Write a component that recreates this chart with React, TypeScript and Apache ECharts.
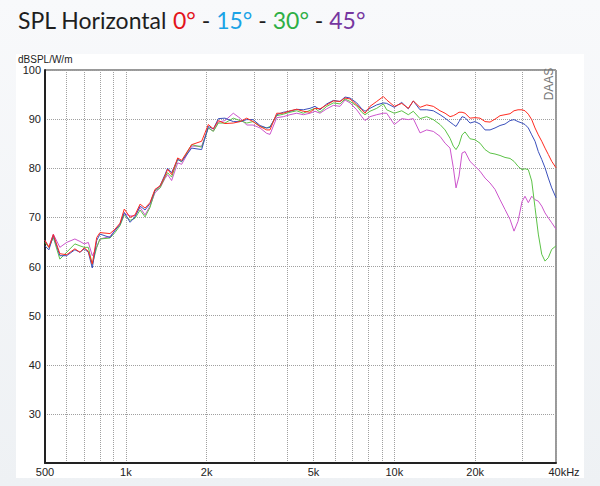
import React, { useEffect, useRef } from 'react';
import * as echarts from 'echarts';

const FREQ = [500, 517, 537, 568, 602, 646, 675, 700, 725, 750, 779, 801, 873, 911, 951, 987, 1037, 1082, 1130, 1179, 1230, 1284, 1341, 1399, 1431, 1481, 1560, 1614, 1759, 1916, 2029, 2118, 2211, 2340,
  2513, 2662, 2820, 2977, 3161, 3347, 3443, 3647, 3859, 4087, 4329, 4581, 4852, 5065, 5286, 5600, 5927, 6276, 6550, 6838, 7243, 7561, 7776, 8116, 8598, 9100, 9366,
  10000, 10655, 11270, 11765, 12465, 13200, 13970, 14795, 15450, 16125, 16585, 16975, 17415, 17870, 18335, 19135, 19980, 20850, 21765, 22720, 23710, 24750, 25835, 26965, 27905, 28880, 29885, 30665, 31550, 32485, 33415, 34370, 35390, 36405, 37450, 38565, 40000];

const SPL_0 = [65.3, 63.9, 66.5, 62.6, 62.4, 63.6, 62.9, 63.8, 63.1, 60.5, 65.9, 66.9, 66.7, 67.6, 68.8, 71.7, 70.0, 70.5, 72.7, 71.9, 73.0, 75.7, 76.4, 78.4, 79.8, 78.7, 82.1, 81.6, 84.8, 85.5, 88.9, 88.0, 89.7, 89.1,
  89.2, 89.5, 90.2, 89.5, 88.5, 87.8, 87.8, 91.2, 91.2, 91.7, 92.0, 91.6, 91.4, 92.2, 92.1, 92.9, 93.7, 93.6, 94.3, 94.1, 92.9, 91.9, 91.2, 92.6, 93.6, 94.6, 93.9,
  92.6, 93.2, 92.2, 93.7, 92.4, 92.9, 92.6, 91.7, 91.2, 90.5, 90.7, 91.0, 91.4, 91.4, 91.2, 90.2, 90.3, 90.2, 89.5, 89.4, 90.0, 90.7, 90.9, 91.1, 91.7, 91.9, 91.9, 91.7, 91.0, 89.9, 88.2, 86.8, 85.5, 84.1, 82.8, 81.4, 80.1];

const SPL_15 = [64.2, 63.4, 66.3, 62.2, 62.2, 63.4, 62.9, 63.6, 62.9, 59.7, 65.3, 66.6, 65.9, 67.3, 68.6, 71.0, 69.0, 70.1, 72.3, 71.5, 72.8, 75.5, 76.4, 78.7, 80.0, 79.1, 81.8, 81.4, 84.1, 83.8, 88.5, 88.0, 90.1, 90.2,
  89.5, 89.5, 89.9, 89.9, 88.7, 88.2, 88.3, 90.9, 91.4, 91.6, 92.0, 91.9, 92.2, 92.6, 91.9, 93.1, 93.8, 93.6, 94.5, 94.3, 93.3, 92.1, 91.6, 92.2, 92.9, 93.3, 93.2,
  92.4, 93.4, 92.1, 93.7, 91.9, 91.9, 91.7, 90.9, 90.2, 89.4, 88.9, 88.5, 89.5, 90.5, 90.3, 89.2, 89.5, 89.0, 87.8, 87.8, 88.2, 88.7, 89.0, 89.7, 89.9, 89.5, 89.2, 88.9, 88.2, 86.8, 85.5, 83.4, 81.8, 80.1, 78.0, 76.0, 74.0];

const SPL_30 = [64.9, 63.9, 65.9, 61.5, 62.9, 64.6, 64.2, 63.9, 63.9, 60.4, 63.9, 65.6, 65.8, 66.9, 68.3, 70.5, 69.4, 69.8, 71.5, 70.1, 72.0, 75.4, 76.0, 78.2, 79.1, 78.2, 81.8, 81.3, 84.8, 84.3, 88.2, 87.5, 89.2, 89.2,
  90.2, 89.7, 89.2, 89.5, 88.5, 88.2, 88.5, 90.7, 91.0, 91.4, 91.7, 91.2, 91.8, 92.2, 91.4, 92.6, 93.3, 93.1, 94.1, 93.6, 92.7, 91.4, 90.9, 91.6, 92.2, 93.1, 91.9,
  91.2, 91.7, 90.9, 91.6, 90.1, 90.5, 89.9, 88.9, 87.8, 86.1, 84.5, 83.8, 84.8, 86.8, 87.4, 86.0, 85.8, 85.1, 83.8, 83.1, 82.9, 82.6, 82.2, 82.0, 81.4, 80.4, 79.7, 79.9, 79.7, 77.4, 72.0, 66.6, 62.5, 61.1, 61.8, 63.5, 64.2];

const SPL_45 = [65.3, 64.0, 66.6, 63.9, 64.9, 65.6, 65.1, 64.6, 64.9, 62.2, 63.9, 65.6, 66.1, 67.4, 68.6, 70.8, 70.3, 70.3, 72.0, 70.5, 72.3, 75.0, 76.0, 77.9, 78.7, 77.5, 81.1, 80.8, 84.5, 84.5, 88.2, 87.6, 89.4, 89.7,
  91.2, 90.2, 88.8, 88.8, 88.2, 87.1, 86.9, 90.3, 90.5, 90.9, 91.2, 90.9, 91.2, 91.6, 91.2, 92.1, 92.8, 92.6, 93.9, 93.3, 91.9, 90.5, 89.7, 90.5, 90.9, 91.2, 91.2,
  88.9, 90.1, 89.9, 90.1, 87.2, 87.8, 87.5, 86.5, 85.1, 84.1, 80.1, 76.0, 78.4, 83.1, 83.4, 81.4, 80.4, 79.4, 78.0, 77.0, 75.7, 73.6, 71.6, 69.6, 67.2, 69.2, 73.2, 74.3, 73.0, 74.3, 73.6, 73.3, 72.3, 70.9, 69.9, 68.9, 67.6];

const GRID_FREQS = [500, 600, 700, 800, 900, 1000, 2000, 3000, 4000, 5000, 6000, 7000, 8000, 9000, 10000, 20000, 30000, 40000];
const LABEL_FREQS = [500, 1000, 2000, 5000, 10000, 20000, 40000];
const LABEL_TEXT = ['500', '1k', '2k', '5k', '10k', '20k', '40kHz'];

const Y_MIN = 20;
const Y_MAX = 100;
const Y_STEP = 10;

const SERIES = [
  { name: '45°', data: SPL_45, color: '#cc55cc' },
  { name: '30°', data: SPL_30, color: '#5cc247' },
  { name: '15°', data: SPL_15, color: '#3a4fbb' },
  { name: '0°', data: SPL_0, color: '#ff2a1f' },
];

const FONT = '"Liberation Sans", Arial, sans-serif';

export default function App() {
  const ref = useRef<HTMLDivElement>(null);
  useEffect(() => {
    const chart = echarts.init(ref.current!, null, { renderer: 'svg' });
    const lg = (f: number) => Math.log10(f);
    chart.setOption({
      animation: false,
      backgroundColor: 'transparent',
      grid: { left: 45, right: 44, top: 70, bottom: 23, show: true, borderColor: '#333', borderWidth: 1, backgroundColor: '#fff' },
      xAxis: {
        type: 'value',
        min: lg(500),
        max: lg(40000),
        axisLine: { show: true, onZero: false, lineStyle: { color: '#222', width: 2 } },
        axisTick: { show: false, customValues: GRID_FREQS.map(lg) },
        axisLabel: {
          customValues: LABEL_FREQS.map(lg),
          color: '#222',
          fontSize: 11,
          fontFamily: FONT,
          margin: 3,
          hideOverlap: false,
          showMinLabel: true,
          showMaxLabel: true,
          formatter: (v: number) => {
            const i = LABEL_FREQS.findIndex((f) => Math.abs(lg(f) - v) < 1e-6);
            if (i < 0) return '';
            return i === LABEL_FREQS.length - 1 ? '{r|' + LABEL_TEXT[i] + '}' : LABEL_TEXT[i];
          },
          rich: { r: { fontSize: 11, fontFamily: FONT, color: '#222', padding: [0, 0, 0, 16] } },
        },
        splitLine: { show: true, lineStyle: { color: '#a0a0a0', type: [1, 1], width: 1 } },
      },
      yAxis: {
        type: 'value',
        min: Y_MIN,
        max: Y_MAX,
        interval: Y_STEP,
        axisLine: { show: true, lineStyle: { color: '#222', width: 2 } },
        axisTick: { show: false },
        axisLabel: {
          color: '#222',
          fontSize: 11,
          fontFamily: FONT,
          margin: 4,
          formatter: (v: number) => (v === Y_MIN ? '' : String(v)),
        },
        splitLine: { show: true, lineStyle: { color: '#a0a0a0', type: [1, 1], width: 1 } },
      },
      graphic: [
        {
          type: 'text',
          left: 18,
          top: 8,
          style: {
            text: '{t|SPL Horizontal }{a|0°}{t| - }{b|15°}{t| - }{c|30°}{t| - }{d|45°}',
            font: '23px Lato, sans-serif',
            rich: {
              t: { fill: '#1e1e1e', fontSize: 23, fontFamily: 'Lato' },
              a: { fill: '#e3141b', fontSize: 23, fontFamily: 'Lato' },
              b: { fill: '#1aa3e6', fontSize: 23, fontFamily: 'Lato' },
              c: { fill: '#2eaf45', fontSize: 23, fontFamily: 'Lato' },
              d: { fill: '#7636a0', fontSize: 23, fontFamily: 'Lato' },
            },
          },
        },
        {
          type: 'text',
          x: 18,
          y: 59,
          style: { text: 'dBSPL/W/m', fill: '#222', font: '10px ' + FONT, verticalAlign: 'middle' },
        },
        {
          type: 'text',
          x: 549,
          y: 84,
          rotation: Math.PI / 2,
          z: 10,
          style: { text: 'DAAS', fill: '#777', font: '12px ' + FONT, align: 'center', verticalAlign: 'middle' },
        },
      ],
      series: SERIES.map((s) => ({
        type: 'line',
        name: s.name,
        showSymbol: false,
        symbol: 'none',
        data: FREQ.map((f, i) => [lg(f), s.data[i]]),
        lineStyle: { color: s.color, width: 1 },
        itemStyle: { color: s.color },
      })),
    });
    return () => chart.dispose();
  }, []);
  return (
    <div style={{ position: 'fixed', left: 0, top: 0, width: 600, height: 486, background: 'linear-gradient(#f8f9fb, #eef1f4)' }}>
      <div style={{ position: 'absolute', left: 16, top: 54, width: 568, height: 424, background: '#fff' }} />
      <div ref={ref} style={{ position: 'absolute', left: 0, top: 0, width: 600, height: 486 }} />
    </div>
  );
}
